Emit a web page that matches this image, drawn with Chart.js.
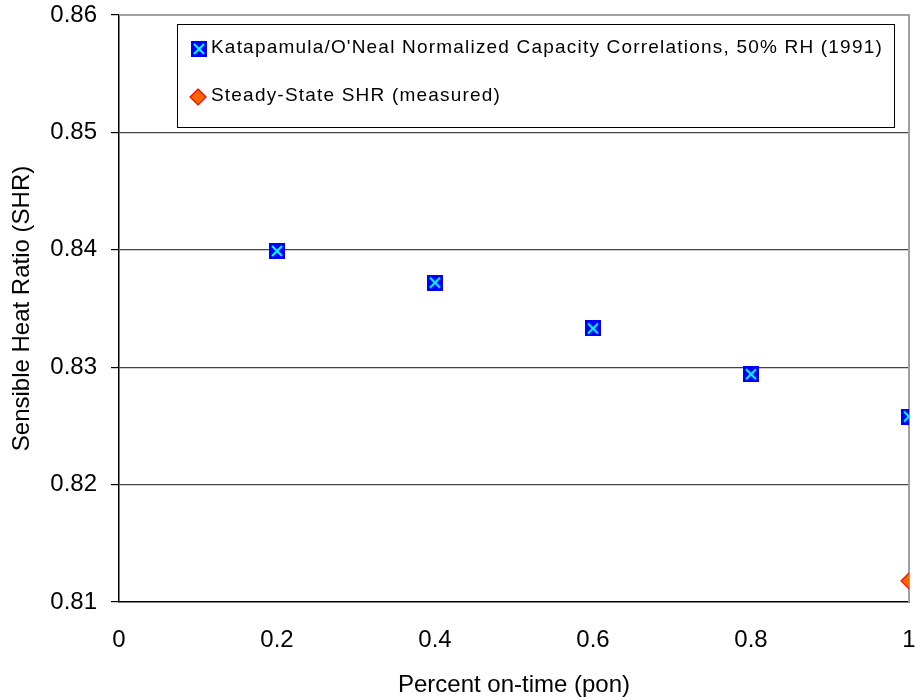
<!DOCTYPE html>
<html><head><meta charset="utf-8">
<script src="https://cdn.jsdelivr.net/npm/chart.js@4/dist/chart.umd.min.js"></script>
<style>html,body{margin:0;padding:0;background:#fff}#wrap{width:916px;height:700px}</style>
</head><body><div id="wrap"><canvas id="c" width="916" height="700"></canvas></div>
<script>
const pon = [0.2, 0.4, 0.6, 0.8, 1.0];
const shrCorrelation = [0.8399, 0.8372, 0.8333, 0.8294, 0.8258];
const ponMeasured = [1.0];
const shrMeasured = [0.8118];
const yTicks = [0.81, 0.82, 0.83, 0.84, 0.85, 0.86];
const xTicks = [0, 0.2, 0.4, 0.6, 0.8, 1];
const seriesNames = ["Katapamula/O'Neal Normalized Capacity Correlations, 50% RH (1991)", "Steady-State SHR (measured)"];
const FONT = '"Liberation Sans", Arial, sans-serif';

function squareX(){
  const c=document.createElement('canvas');c.width=16;c.height=16;const g=c.getContext('2d');
  g.fillStyle='#0000ff';g.fillRect(0,0,16,16);
  g.strokeStyle='#00ffff';g.lineWidth=2;g.beginPath();
  g.moveTo(3,3);g.lineTo(13,13);g.moveTo(13,3);g.lineTo(3,13);g.stroke();
  return c;
}
function diamond(){
  const c=document.createElement('canvas');c.width=18;c.height=18;const g=c.getContext('2d');
  g.fillStyle='#ff6600';g.strokeStyle='#ff0000';g.lineWidth=1.2;g.beginPath();
  g.moveTo(9,1);g.lineTo(17,9);g.lineTo(9,17);g.lineTo(1,9);g.closePath();g.fill();g.stroke();
  return c;
}
const imgA=squareX(), imgB=diamond();

const legendPlugin={id:'boxLegend',afterDraw(chart){
  const ctx=chart.ctx;ctx.save();
  ctx.fillStyle='#fff';ctx.fillRect(177,24,717,103);
  ctx.strokeStyle='#000';ctx.lineWidth=1;ctx.strokeRect(177.5,24.5,717,103);
  ctx.drawImage(imgA,191,41);
  ctx.drawImage(imgB,189,88);
  ctx.fillStyle='#000';ctx.font='19px '+FONT;ctx.textBaseline='middle';
  if('letterSpacing' in ctx) ctx.letterSpacing='1.2px';
  ctx.fillText(seriesNames[0],211,48);
  ctx.fillText(seriesNames[1],211,96);
  if('letterSpacing' in ctx) ctx.letterSpacing='0px';
  ctx.restore();
}};
const borderPlugin={id:'frame',beforeDatasetsDraw(chart){
  const a=chart.chartArea,ctx=chart.ctx;ctx.save();
  ctx.strokeStyle='#a0a0a0';ctx.lineWidth=2;ctx.beginPath();
  ctx.moveTo(a.left,a.top);ctx.lineTo(a.right,a.top);ctx.lineTo(a.right,a.bottom);ctx.stroke();
  ctx.restore();
}};

new Chart(document.getElementById('c'),{
  type:'scatter',
  data:{datasets:[
    {label:seriesNames[0],data:pon.map((x,i)=>({x,y:shrCorrelation[i]})),pointStyle:imgA,showLine:false},
    {label:seriesNames[1],data:ponMeasured.map((x,i)=>({x,y:shrMeasured[i]})),pointStyle:imgB,showLine:false}
  ]},
  options:{
    responsive:false,animation:false,
    layout:{padding:{top:15,right:7,left:0,bottom:0}},
    plugins:{legend:{display:false},tooltip:{enabled:false}},
    scales:{
      x:{type:'linear',min:0,max:1,
        afterBuildTicks(s){s.ticks=xTicks.map(v=>({value:v}));},
        afterFit(s){s.height=98;s.paddingLeft=0;s.paddingRight=0;},
        grid:{display:false,drawOnChartArea:false,drawTicks:true,tickLength:8,tickColor:'#000'},
        border:{color:'#000',width:1.5},
        ticks:{color:'#000',font:{size:24,family:FONT},padding:16,maxRotation:0,callback:v=>String(v)},
        title:{display:true,text:'Percent on-time (pon)',color:'#000',font:{size:24,family:FONT},padding:{top:3,bottom:0}}
      },
      y:{type:'linear',min:0.81,max:0.86,
        afterBuildTicks(s){s.ticks=yTicks.map(v=>({value:v}));},
        afterFit(s){s.width=119;s.paddingTop=0;s.paddingBottom=0;},
        grid:{color:c=>(c.tick&&(Math.abs(c.tick.value-0.86)<1e-9||Math.abs(c.tick.value-0.81)<1e-9))?'rgba(0,0,0,0)':'#444',lineWidth:1.2,drawTicks:true,tickLength:8,tickColor:'#000'},
        border:{color:'#000',width:1.5},
        ticks:{color:'#000',font:{size:24,family:FONT},padding:14,callback:v=>v.toFixed(2)},
        title:{display:true,text:'Sensible Heat Ratio (SHR)',color:'#000',font:{size:24,family:FONT},padding:{top:8,bottom:0}}
      }
    }
  },
  plugins:[borderPlugin,legendPlugin]
});
</script></body></html>
